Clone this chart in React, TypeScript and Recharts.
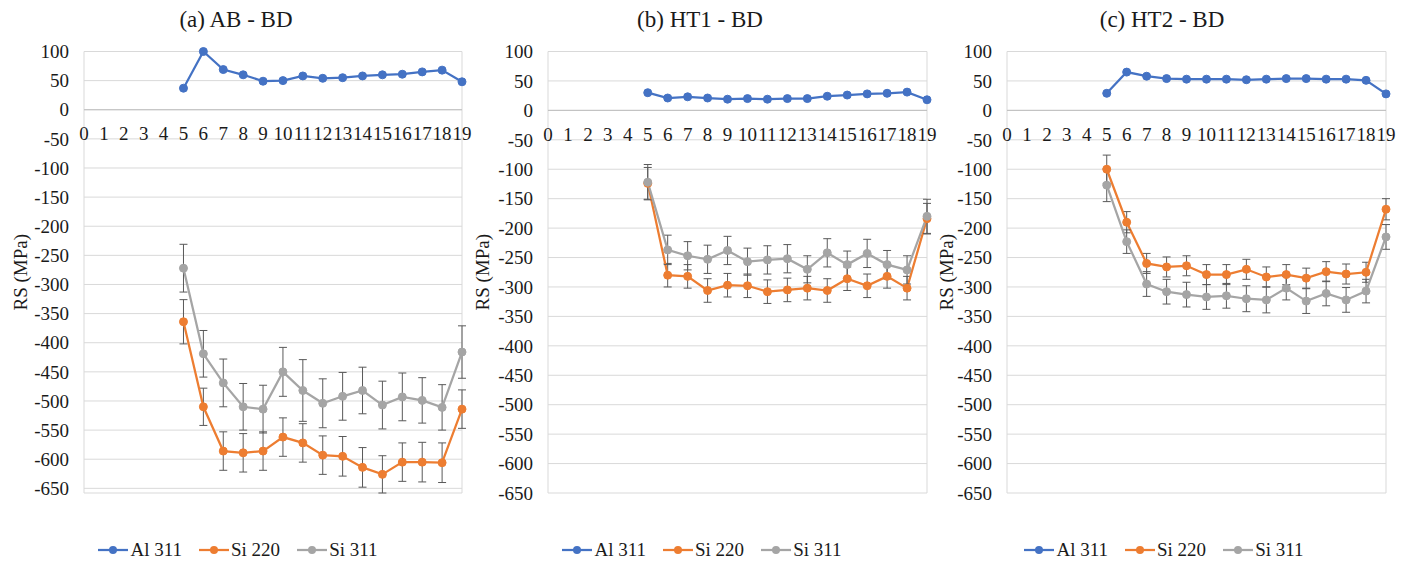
import React from 'react';
import {
  LineChart,
  Line,
  XAxis,
  YAxis,
  CartesianGrid,
  ErrorBar,
  ReferenceDot,
  ReferenceLine,
} from 'recharts';

// ---------- data ----------
const yPositions = [5, 6, 7, 8, 9, 10, 11, 12, 13, 14, 15, 16, 17, 18, 19];
const xTicks = [0, 1, 2, 3, 4, 5, 6, 7, 8, 9, 10, 11, 12, 13, 14, 15, 16, 17, 18, 19];
const yTicks = [100, 50, 0, -50, -100, -150, -200, -250, -300, -350, -400, -450, -500, -550, -600, -650];
const seriesNames = ['Al 311', 'Si 220', 'Si 311'];
const panelTitles = ['(a) AB - BD', '(b) HT1 - BD', '(c) HT2 - BD'];

const abAl311 = [37, 100, 69, 60, 49, 50, 58, 54, 55, 58, 60, 61, 65, 68, 48];
const abSi220 = [-364, -510, -586, -589, -586, -562, -572, -593, -595, -614, -626, -605, -605, -606, -514];
const abSi220Err = [38, 32, 33, 33, 33, 33, 33, 33, 34, 34, 32, 33, 34, 34, 33];
const abSi311 = [-272, -419, -469, -510, -514, -450, -482, -504, -492, -482, -507, -493, -499, -511, -416];
const abSi311Err = [41, 40, 41, 40, 41, 42, 53, 42, 41, 40, 41, 41, 39, 39, 45];

const ht1Al311 = [30, 21, 23, 21, 19, 20, 19, 20, 20, 24, 26, 28, 29, 31, 18];
const ht1Si220 = [-124, -280, -282, -306, -297, -298, -308, -305, -302, -306, -286, -298, -282, -302, -184];
const ht1Si220Err = [27, 20, 20, 20, 20, 20, 20, 20, 20, 20, 20, 20, 20, 20, 26];
const ht1Si311 = [-122, -237, -247, -253, -238, -257, -254, -252, -270, -242, -262, -243, -262, -271, -180];
const ht1Si311Err = [30, 25, 24, 24, 24, 23, 24, 24, 23, 24, 23, 24, 24, 24, 29];

const ht2Al311 = [29, 65, 58, 54, 53, 53, 53, 52, 53, 54, 54, 53, 53, 51, 28];
const ht2Si220 = [-100, -190, -260, -266, -264, -279, -279, -270, -283, -279, -285, -274, -278, -275, -168];
const ht2Si220Err = [24, 18, 17, 17, 17, 17, 17, 17, 17, 17, 17, 17, 17, 17, 18];
const ht2Si311 = [-127, -223, -295, -308, -313, -317, -315, -320, -322, -302, -324, -311, -322, -307, -215];
const ht2Si311Err = [28, 20, 21, 21, 21, 21, 21, 22, 22, 20, 21, 21, 21, 20, 21];

// ---------- styles ----------
const FONT = '"Liberation Serif", "Times New Roman", serif';
const TEXT = '#1a1a1a';
const COLORS = ['#4472C4', '#ED7D31', '#A5A5A5'];
const ERR = '#595959';

function buildData(al: number[], s220: number[], e220: number[], s311: number[], e311: number[]) {
  return yPositions.map((y, i) => ({
    y,
    al: al[i],
    s220: s220[i],
    e220: e220[i],
    s311: s311[i],
    e311: e311[i],
  }));
}

type PanelProps = {
  title: string;
  data: any[];
  left: number;
  width: number;
  yAxisWidth: number;
  marginRight: number;
  yLabelOffset: number;
  titleCx: number;
  legendCx: number;
};

function LegendRow({ cx }: { cx: number }) {
  return (
    <div
      style={{
        position: 'absolute',
        left: cx - 200,
        top: 539,
        width: 400,
        height: 22,
        display: 'flex',
        justifyContent: 'center',
        alignItems: 'center',
        fontFamily: FONT,
        fontSize: 19,
        color: TEXT,
        whiteSpace: 'nowrap',
      }}
    >
      {seriesNames.map((n, i) => (
        <div key={n} style={{ display: 'flex', alignItems: 'center', marginRight: i < 2 ? 17 : 0 }}>
          <svg width={30} height={10} style={{ marginRight: 2 }}>
            <line x1={0} y1={5} x2={30} y2={5} stroke={COLORS[i]} strokeWidth={2.25} />
            <circle cx={15} cy={5} r={4} fill={COLORS[i]} />
          </svg>
          <span>{n}</span>
        </div>
      ))}
    </div>
  );
}

function Panel(p: PanelProps) {
  const tickStyle = { fill: TEXT, fontSize: 19, fontFamily: FONT };
  return (
    <>
      <div
        style={{
          position: 'absolute',
          left: p.titleCx - 150,
          top: 8,
          width: 300,
          textAlign: 'center',
          fontFamily: FONT,
          fontSize: 23,
          lineHeight: '24px',
          color: TEXT,
        }}
      >
        {p.title}
      </div>
      <div style={{ position: 'absolute', left: p.left, top: 0 }}>
        <LineChart
          width={p.width}
          height={565}
          data={p.data}
          margin={{ top: 51.5, right: p.marginRight, bottom: 72, left: 0 }}
        >
          <CartesianGrid stroke="#D9D9D9" strokeWidth={1} />
          <XAxis
            dataKey="y"
            type="number"
            domain={[0, 19]}
            ticks={xTicks}
            tick={false}
            tickLine={false}
            axisLine={false}
            height={0}
            label={{ value: 'Y (mm)', position: 'bottom', offset: 9, ...tickStyle }}
          />
          <YAxis
            type="number"
            domain={[-650, 100]}
            ticks={yTicks}
            interval={0}
            width={p.yAxisWidth}
            tickLine={false}
            axisLine={false}
            tickSize={0}
            tickMargin={15}
            tick={tickStyle}
            label={{
              value: 'RS (MPa)',
              angle: -90,
              position: 'insideLeft',
              offset: p.yLabelOffset,
              ...tickStyle,
              style: { textAnchor: 'middle' },
            }}
          />
          <ReferenceLine y={0} stroke="#BFBFBF" strokeWidth={1} />
          {xTicks.map((t) => (
            <ReferenceDot
              key={t}
              x={t}
              y={0}
              r={0}
              fill="none"
              stroke="none"
              label={{ value: String(t), position: 'bottom', offset: 17, ...tickStyle }}
            />
          ))}
          <Line
            dataKey="al"
            name={seriesNames[0]}
            stroke={COLORS[0]}
            strokeWidth={2.25}
            dot={{ r: 4, fill: COLORS[0], stroke: COLORS[0], strokeWidth: 1 }}
            activeDot={false}
            isAnimationActive={false}
          />
          <Line
            dataKey="s220"
            name={seriesNames[1]}
            stroke={COLORS[1]}
            strokeWidth={2.25}
            dot={{ r: 4, fill: COLORS[1], stroke: COLORS[1], strokeWidth: 1 }}
            activeDot={false}
            isAnimationActive={false}
          >
            <ErrorBar dataKey="e220" width={4} stroke={ERR} strokeWidth={1} direction="y" />
          </Line>
          <Line
            dataKey="s311"
            name={seriesNames[2]}
            stroke={COLORS[2]}
            strokeWidth={2.25}
            dot={{ r: 4, fill: COLORS[2], stroke: COLORS[2], strokeWidth: 1 }}
            activeDot={false}
            isAnimationActive={false}
          >
            <ErrorBar dataKey="e311" width={4} stroke={ERR} strokeWidth={1} direction="y" />
          </Line>
        </LineChart>
      </div>
      <LegendRow cx={p.legendCx} />
    </>
  );
}

export default function App() {
  const abData = buildData(abAl311, abSi220, abSi220Err, abSi311, abSi311Err);
  const ht1Data = buildData(ht1Al311, ht1Si220, ht1Si220Err, ht1Si311, ht1Si311Err);
  const ht2Data = buildData(ht2Al311, ht2Si220, ht2Si220Err, ht2Si311, ht2Si311Err);
  return (
    <div
      style={{
        position: 'absolute',
        left: 0,
        top: 0,
        width: 1411,
        height: 565,
        background: '#fff',
        overflow: 'hidden',
      }}
    >
      <Panel title={panelTitles[0]} data={abData} left={0} width={480} yAxisWidth={84} marginRight={18} yLabelOffset={20} titleCx={236} legendCx={238} />
      <Panel title={panelTitles[1]} data={ht1Data} left={470} width={470} yAxisWidth={78} marginRight={13} yLabelOffset={12} titleCx={700} legendCx={702} />
      <Panel title={panelTitles[2]} data={ht2Data} left={930} width={481} yAxisWidth={77} marginRight={25} yLabelOffset={16} titleCx={1162} legendCx={1164} />
    </div>
  );
}
